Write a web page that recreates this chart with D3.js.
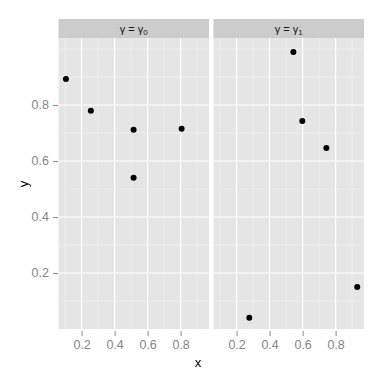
<!DOCTYPE html>
<html>
<head>
<meta charset="UTF-8">
<title>facet scatter</title>
<script src="https://d3js.org/d3.v7.min.js"></script>
<style>
  body { margin: 0; background: #fff; }
  text { font-family: "Liberation Sans", Arial, sans-serif; }
</style>
</head>
<body>
<div id="chart"></div>
<script>
const width = 384, height = 384;

// data
const panels = ["0", "1"];
const x0 = [0.105, 0.256, 0.515, 0.806, 0.515];
const y0 = [0.893, 0.779, 0.711, 0.715, 0.540];
const x1 = [0.544, 0.598, 0.744, 0.931, 0.277];
const y1 = [0.989, 0.743, 0.646, 0.150, 0.040];
const xTicks = [0.2, 0.4, 0.6, 0.8];
const yTicks = [0.2, 0.4, 0.6, 0.8];
const xMinor = [0.1, 0.3, 0.5, 0.7, 0.9];
const yMinor = [0.1, 0.3, 0.5, 0.7, 0.9, 1.0];

const series = [x0.map((v, i) => ({x: v, y: y0[i]})),
                x1.map((v, i) => ({x: v, y: y1[i]}))];

const panelLeft = [58.5, 213.5];
const panelW = 150.5;
const panelTop = 38, panelBottom = 329, stripTop = 19;

const svg = d3.select("#chart").append("svg")
    .attr("width", width).attr("height", height);

const y = d3.scaleLinear().domain([0.0, 1.039]).range([panelBottom, panelTop]);

panels.forEach(function (p, k) {
    const x = d3.scaleLinear().domain([0.06, 0.972])
        .range([panelLeft[k], panelLeft[k] + panelW]);
    const g = svg.append("g");

    // strip
    g.append("rect")
        .attr("x", panelLeft[k]).attr("y", stripTop)
        .attr("width", panelW).attr("height", panelTop - stripTop)
        .attr("fill", "#cccccc");
    const st = g.append("text")
        .attr("x", panelLeft[k] + panelW / 2).attr("y", 33)
        .attr("text-anchor", "middle")
        .attr("font-size", 11).attr("fill", "#1a1a1a");
    st.append("tspan").text("\u03b3 = \u03b3");
    st.append("tspan").attr("font-size", 8).attr("dy", 2).text(p);

    // panel background
    g.append("rect")
        .attr("x", panelLeft[k]).attr("y", panelTop)
        .attr("width", panelW).attr("height", panelBottom - panelTop)
        .attr("fill", "#e5e5e5");

    // minor grid
    g.selectAll(".vmin").data(xMinor).enter().append("line")
        .attr("x1", d => x(d)).attr("x2", d => x(d))
        .attr("y1", panelTop).attr("y2", panelBottom)
        .attr("stroke", "#f2f2f2").attr("stroke-width", 0.6);
    g.selectAll(".hmin").data(yMinor).enter().append("line")
        .attr("x1", panelLeft[k]).attr("x2", panelLeft[k] + panelW)
        .attr("y1", d => y(d)).attr("y2", d => y(d))
        .attr("stroke", "#f2f2f2").attr("stroke-width", 0.6);

    // major grid
    g.selectAll(".vmaj").data(xTicks).enter().append("line")
        .attr("x1", d => x(d)).attr("x2", d => x(d))
        .attr("y1", panelTop).attr("y2", panelBottom)
        .attr("stroke", "#ffffff").attr("stroke-width", 1.1);
    g.selectAll(".hmaj").data(yTicks).enter().append("line")
        .attr("x1", panelLeft[k]).attr("x2", panelLeft[k] + panelW)
        .attr("y1", d => y(d)).attr("y2", d => y(d))
        .attr("stroke", "#ffffff").attr("stroke-width", 1.1);

    // points
    g.selectAll("circle").data(series[k]).enter().append("circle")
        .attr("cx", d => x(d.x)).attr("cy", d => y(d.y))
        .attr("r", 3).attr("fill", "#000");

    // x axis
    const xa = g.append("g").attr("transform", "translate(0," + (panelBottom + 2) + ")")
        .call(d3.axisBottom(x).tickValues(xTicks).tickSize(5).tickPadding(4)
            .tickFormat(d3.format(".1f")));
    xa.select(".domain").remove();
    xa.selectAll("line").attr("stroke", "#8a8a8a");
    xa.selectAll("text").attr("fill", "#858585").attr("font-size", 12.5)
        .style("font-family", "Liberation Sans, Arial, sans-serif");
});

// y axis
const ya = svg.append("g").attr("transform", "translate(" + (panelLeft[0] - 0.5) + ",0)")
    .call(d3.axisLeft(y).tickValues(yTicks).tickSize(5).tickPadding(4)
        .tickFormat(d3.format(".1f")));
ya.select(".domain").remove();
ya.selectAll("line").attr("stroke", "#8a8a8a");
ya.selectAll("text").attr("fill", "#858585").attr("font-size", 12.5)
    .style("font-family", "Liberation Sans, Arial, sans-serif");

// axis titles
svg.append("text").attr("x", 198).attr("y", 367)
    .attr("text-anchor", "middle").attr("font-size", 13).text("x");
svg.append("text")
    .attr("transform", "translate(28,184) rotate(-90)")
    .attr("text-anchor", "middle").attr("font-size", 13).text("y");
</script>
</body>
</html>
